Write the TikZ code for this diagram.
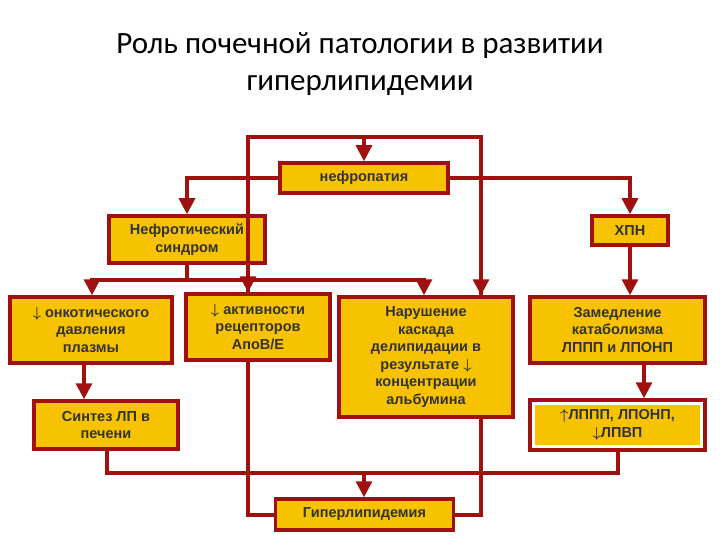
\documentclass[tikz,border=0pt]{standalone}
\usepackage{fontspec}
\setmainfont{Liberation Sans}
\newfontfamily\titlefont{Carlito}
\usetikzlibrary{arrows.meta}
\definecolor{dred}{HTML}{A0100E}
\definecolor{ybox}{HTML}{F7C300}
\usepackage{amsmath,amssymb,bm}
\begin{document}
\begin{tikzpicture}[x=1pt,y=-1pt,
 box/.style={draw=dred,fill=ybox,line width=3.5pt,align=center,font=\bfseries\fontsize{14.5}{17.5}\selectfont,inner sep=0pt,text=black!80},
 ln/.style={draw=dred,line width=3.2pt},
 ar/.style={ln,-{Triangle[length=16pt,width=16pt]}}]
\useasboundingbox (0,0) rectangle (720,540);
\node[font=\titlefont\fontsize{31}{37}\selectfont,align=center] (title) at (360,64) {Роль почечной патологии в развитии\\гиперлипидемии};
\node[box,minimum width=168,minimum height=30] (nef) at (364,178) {нефропатия};
\node[box,minimum width=156,minimum height=47] (ns) at (187,239.5) {Нефротический\\синдром};
\node[box,minimum width=76,minimum height=29] (hpn) at (630,230.5) {ХПН};
\node[box,minimum width=162,minimum height=66] (onk) at (91,330) {$\bm{\downarrow}$ онкотического\\давления\\плазмы};
\node[box,minimum width=144,minimum height=66] (akt) at (258,327) {$\bm{\downarrow}$ активности\\рецепторов\\АпоВ/Е};
\node[box,minimum width=174,minimum height=120] (nar) at (426,357) {Нарушение\\каскада\\делипидации в\\результате $\bm{\downarrow}$\\концентрации\\альбумина};
\node[box,minimum width=175,minimum height=66] (zam) at (617.5,330) {Замедление\\катаболизма\\ЛППП и ЛПОНП};
\node[box,minimum width=144,minimum height=48] (sin) at (106,425) {Синтез ЛП в\\печени};
\node[box,fill=white,minimum width=175,minimum height=50,
 path picture={\fill[ybox] ([shift={(5pt,-5pt)}]path picture bounding box.north west) rectangle ([shift={(-5pt,5pt)}]path picture bounding box.south east);}] (lp) at (617.5,425) {$\bm{\uparrow}$ЛППП, ЛПОНП,\\$\bm{\downarrow}$ЛПВП};
\node[box,minimum width=178,minimum height=31] (gip) at (364.5,514.5) {Гиперлипидемия};
\coordinate (tl) at (248,137); \coordinate (tr) at (481,137); \coordinate (tm) at (364,137);
\draw[ln] (akt.north -| tl) -- (tl) -- (tr) -- (nar.north -| tr);
\draw[ar] (tm) -- (nef.north);
\draw[ar] (248,280) -- (akt.north -| tl);
\draw[ar] (481,280) -- (nar.north -| tr);
\draw[ar] (nef.west) -| (ns.north);
\draw[ar] (nef.east) -| (hpn.north);
\coordinate (sp) at (ns.south |- 0,280);
\draw[ln] (ns.south) -- (sp);
\draw[ar] (sp) -| (onk.north -| 92,0);
\draw[ar] (sp) -| (nar.north -| 424,0);
\draw[ar] (hpn.south) -- (zam.north -| hpn.south);
\draw[ar] (onk.south -| 84,0) -- (sin.north -| 84,0);
\draw[ar] (zam.south -| 644,0) -- (lp.north -| 644,0);
\coordinate (bl) at (107,473); \coordinate (br) at (618,473);
\draw[ln] (sin.south -| bl) -- (bl) -- (br) -- (lp.south -| br);
\draw[ar] (364,473) -- (gip.north -| 364,0);
\draw[ln] (akt.south -| 248,0) |- (gip.west |- 0,515);
\draw[ln] (nar.south -| 481,0) |- (gip.east |- 0,515);
\end{tikzpicture}
\end{document}
